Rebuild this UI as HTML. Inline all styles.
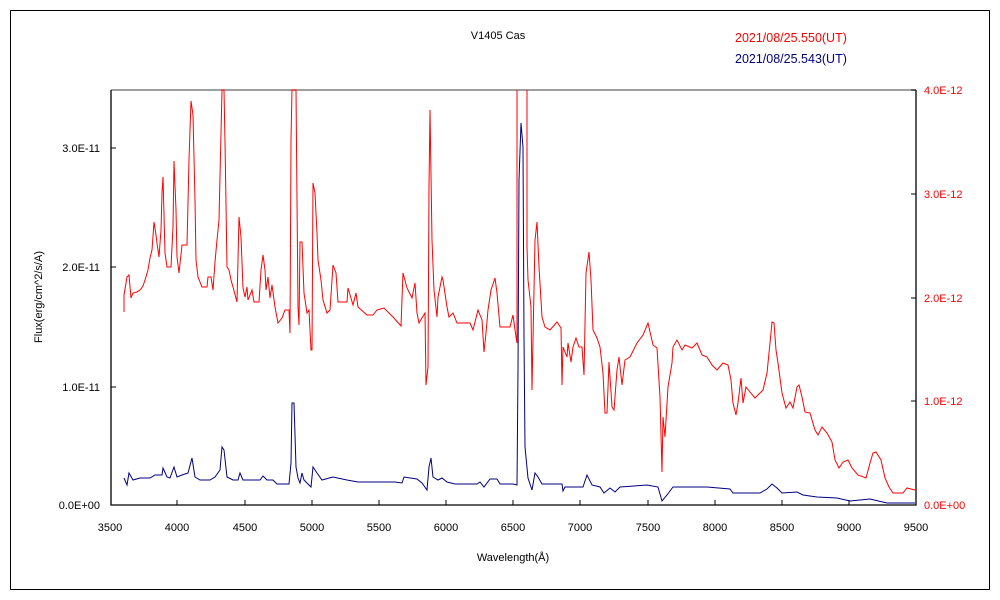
<!DOCTYPE html>
<html><head><meta charset="utf-8"><style>
body{margin:0;background:#fff;}
svg{display:block;font-family:"Liberation Sans","Noto Sans CJK JP",sans-serif;font-size:11px;}
</style></head><body>
<svg width="1000" height="600" xmlns="http://www.w3.org/2000/svg">
<rect x="0" y="0" width="1000" height="600" fill="#fff"/>
<rect x="10.5" y="10.5" width="979" height="579" fill="none" stroke="#000" stroke-width="1"/>
<text x="498" y="39" text-anchor="middle" fill="#000">V1405 Cas</text>
<text x="735" y="42" fill="#f00" font-size="12.5">2021/08/25.550(UT)</text>
<text x="735" y="63" fill="#000080" font-size="12.5">2021/08/25.543(UT)</text>
<line x1="111" y1="90" x2="916" y2="90" stroke="#808080" stroke-width="1.5"/>
<polyline points="111,90 111,505 916,505 916,90" fill="none" stroke="#000" stroke-width="1.3"/>
<g stroke="#000" stroke-width="1">
<line x1="111" y1="148" x2="116" y2="148"/><line x1="111" y1="267" x2="116" y2="267"/><line x1="111" y1="387" x2="116" y2="387"/>
<line x1="911" y1="90" x2="916" y2="90"/><line x1="911" y1="194" x2="916" y2="194"/><line x1="911" y1="298" x2="916" y2="298"/><line x1="911" y1="401" x2="916" y2="401"/>
<line x1="177" y1="500" x2="177" y2="505"/><line x1="245" y1="500" x2="245" y2="505"/><line x1="312" y1="500" x2="312" y2="505"/><line x1="379" y1="500" x2="379" y2="505"/><line x1="446" y1="500" x2="446" y2="505"/><line x1="513" y1="500" x2="513" y2="505"/><line x1="580" y1="500" x2="580" y2="505"/><line x1="648" y1="500" x2="648" y2="505"/><line x1="715" y1="500" x2="715" y2="505"/><line x1="782" y1="500" x2="782" y2="505"/><line x1="849" y1="500" x2="849" y2="505"/>
</g>
<g text-anchor="end" fill="#000">
<text x="100" y="152">3.0E-11</text><text x="100" y="271">2.0E-11</text><text x="100" y="391">1.0E-11</text><text x="100" y="509">0.0E+00</text>
</g>
<g fill="#f00">
<text x="924" y="94">4.0E-12</text><text x="924" y="198">3.0E-12</text><text x="924" y="302">2.0E-12</text><text x="924" y="405">1.0E-12</text><text x="924" y="509">0.0E+00</text>
</g>
<g text-anchor="middle" fill="#000">
<text x="110" y="531">3500</text><text x="177" y="531">4000</text><text x="245" y="531">4500</text><text x="312" y="531">5000</text><text x="379" y="531">5500</text><text x="446" y="531">6000</text><text x="513" y="531">6500</text><text x="580" y="531">7000</text><text x="648" y="531">7500</text><text x="715" y="531">8000</text><text x="782" y="531">8500</text><text x="849" y="531">9000</text><text x="916" y="531">9500</text>
<text x="513" y="561">Wavelength(Å)</text>
<text x="0" y="0" transform="translate(42,297) rotate(-90)">Flux(erg/cm^2/s/A)</text>
</g>
<polyline fill="none" stroke="#f00" stroke-width="1" points="124,312 124,295 127,277 129,275 131,298 133,293 137,292 140,290 143,286 145,280 148,270 150,258 152,250 154,222 156,235 157,243 159,257 161,230 162,193 163,177 165,253 167,267 171,267 173,227 174,161 176,210 177,257 179,273 182,245 187,245 189,160 191,101 193,115 195,200 196,260 198,277 202,287 207,287 208,277 211,277 213,290 215,262 217,240 219,220 222,90 224,90 225,142 227,267 229,270 231,280 233,287 237,302 239,217 241,237 243,288 245,297 247,287 248,300 252,290 254,302 259,302 261,270 263,255 265,270 266,290 268,277 270,298 272,285 275,307 278,323 282,318 285,310 289,310 290,333 291,140 292,90 296,90 297,200 298,307 299,325 300,242 302,242 304,293 307,313 309,310 311,350 312,350 313,183 315,193 317,233 318,260 321,280 323,300 327,313 330,310 333,265 336,273 338,302 347,302 348,288 353,305 356,293 358,307 367,315 373,315 377,310 384,308 393,317 401,326 403,273 407,288 412,298 415,283 417,313 419,323 425,313 426,385 428,367 429,187 430,110 432,240 434,290 437,317 438,297 442,277 443,280 447,307 449,317 453,313 457,323 470,323 473,330 478,310 482,320 484,352 486,333 488,310 491,290 495,278 497,293 500,327 510,327 513,315 515,330 517,343 517,90 M"/>
<polyline fill="none" stroke="#f00" stroke-width="1" points="527,90 527,247 528,280 531,307 532,390 533,340 535,240 537,222 539,267 542,317 545,327 550,330 557,322 561,328 562,385 563,347 567,357 568,343 571,362 573,347 576,338 579,347 582,347 584,375 586,273 589,252 591,280 593,330 597,338 600,347 603,373 605,413 607,413 609,362 612,407 614,410 617,370 619,357 622,385 625,360 630,357 637,343 643,335 648,323 653,345 657,348 660,397 662,472 663,417 665,437 668,387 672,363 673,347 677,340 682,350 685,345 692,348 697,343 702,355 707,357 712,365 717,370 723,363 728,365 731,380 733,403 736,415 738,403 741,378 743,403 746,387 750,392 755,398 760,393 763,390 767,373 770,343 772,322 774,323 776,350 778,363 782,393 786,408 790,402 793,408 797,387 799,385 802,397 805,412 810,413 815,430 818,435 822,427 827,433 832,442 835,460 839,468 843,462 848,460 852,468 858,475 866,478 870,463 873,453 876,452 881,460 885,478 889,487 893,493 903,493 907,488 915,490"/>
<polyline fill="none" stroke="#000080" stroke-width="1" points="124,478 127,485 129,473 133,480 140,478 150,478 155,475 162,475 163,468 167,477 170,478 174,467 177,477 182,475 188,473 192,458 195,477 200,480 210,480 215,477 220,470 222,447 224,450 227,477 233,480 238,480 240,473 243,480 260,480 263,476 267,480 273,480 277,484 289,484 291,463 292,403 294,403 296,467 298,478 300,483 302,473 304,480 311,487 313,467 317,473 322,480 333,477 347,480 358,482 395,482 402,483 404,477 417,479 422,483 427,490 429,467 431,458 433,477 438,480 442,478 447,482 455,484 477,484 480,482 484,487 490,479 497,479 500,484 513,484 517,485 518,370 519,180 521,123 523,147 524,337 525,447 528,478 532,490 535,473 538,477 542,484 562,484 563,491 565,487 583,487 587,475 592,485 600,487 604,493 610,488 615,492 620,487 647,485 658,487 662,501 667,495 673,487 707,487 730,489 733,493 760,493 767,489 772,484 777,488 782,493 797,492 803,495 817,497 837,498 850,501 870,499 887,503 915,503"/>
</svg>
</body></html>
